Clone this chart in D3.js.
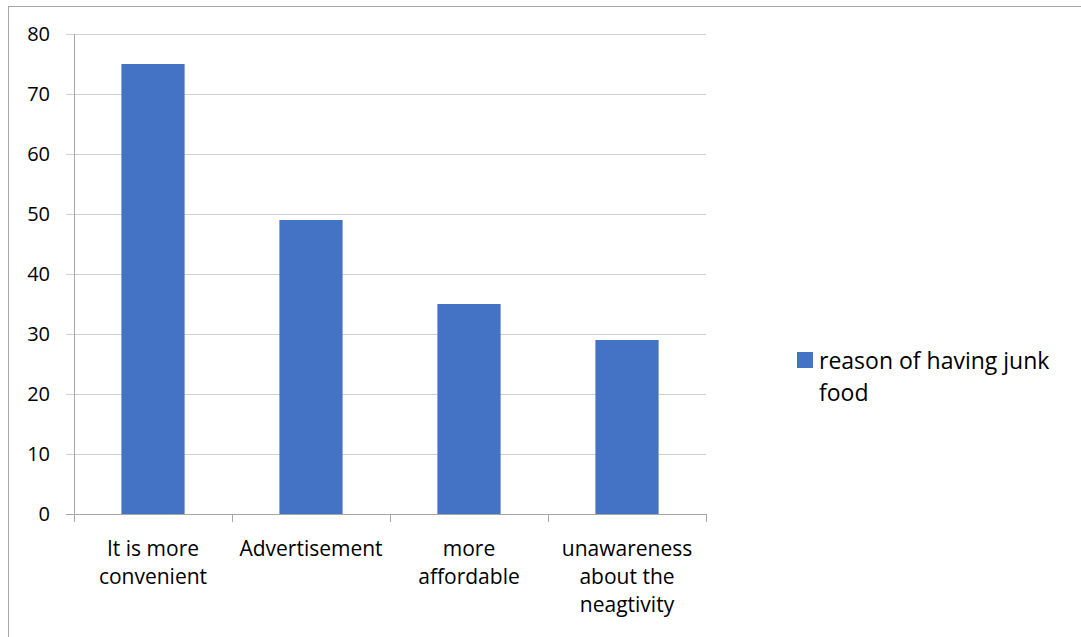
<!DOCTYPE html>
<html>
<head>
<meta charset="utf-8">
<script src="https://cdn.jsdelivr.net/npm/d3@7"></script>
<style>
  body { margin: 0; background: #fff; }
  svg text { font-family: "Open Sans", "Liberation Sans", sans-serif; fill: #000; }
</style>
</head>
<body>
<svg id="chart" width="1081" height="637"></svg>
<script>
const categories = [
  ["It is more", "convenient"],
  ["Advertisement"],
  ["more", "affordable"],
  ["unawareness", "about the", "neagtivity"]
];
const values = [75, 49, 35, 29];
const yTicks = [0, 10, 20, 30, 40, 50, 60, 70, 80];
const seriesName = ["reason of having junk", "food"];

const svg = d3.select("#chart");
const margin = { left: 74, top: 34, right: 706, bottom: 514 };

// outer chart frame
svg.append("rect")
  .attr("x", 8.5).attr("y", 6.5)
  .attr("width", 1100).attr("height", 700)
  .attr("fill", "none").attr("stroke", "#a6a6a6");

const x = d3.scaleBand()
  .domain(d3.range(categories.length))
  .range([margin.left, margin.right])
  .paddingInner(0.6).paddingOuter(0.3);

const y = d3.scaleLinear().domain([0, 80]).range([margin.bottom, margin.top]);

// gridlines
svg.append("g")
  .selectAll("line")
  .data(yTicks)
  .enter()
  .append("line")
  .attr("x1", margin.left - 8)
  .attr("x2", margin.right)
  .attr("y1", (d) => Math.round(y(d)) + 0.5)
  .attr("y2", (d) => Math.round(y(d)) + 0.5)
  .attr("stroke", (d) => (d === 0 ? "#a6a6a6" : "#d0d0d0"));

// y labels
svg.append("g")
  .selectAll("text")
  .data(yTicks)
  .enter()
  .append("text")
  .attr("x", 50)
  .attr("y", (d) => y(d) + 7)
  .attr("text-anchor", "end")
  .style("font-size", "20px")
  .text((d) => d);

// y axis line
svg.append("line")
  .attr("x1", margin.left + 0.5).attr("x2", margin.left + 0.5)
  .attr("y1", margin.top).attr("y2", margin.bottom)
  .attr("stroke", "#a6a6a6");

// x category ticks
const step = (margin.right - margin.left) / categories.length;
svg.append("g")
  .selectAll("line")
  .data(d3.range(categories.length + 1))
  .enter()
  .append("line")
  .attr("x1", (d) => Math.round(margin.left + d * step) + 0.5)
  .attr("x2", (d) => Math.round(margin.left + d * step) + 0.5)
  .attr("y1", margin.bottom)
  .attr("y2", margin.bottom + 8)
  .attr("stroke", "#a6a6a6");

// bars
svg.append("g")
  .selectAll("rect")
  .data(values)
  .enter()
  .append("rect")
  .attr("x", (d, i) => x(i))
  .attr("width", x.bandwidth())
  .attr("y", (d) => y(d))
  .attr("height", (d) => y(0) - y(d))
  .attr("fill", "#4472c4");

// category labels
const lab = svg.append("g")
  .selectAll("text")
  .data(categories)
  .enter()
  .append("text")
  .attr("text-anchor", "middle")
  .style("font-size", "21px");
lab.selectAll("tspan")
  .data((d, i) => d.map((t) => ({ t, i })))
  .enter()
  .append("tspan")
  .attr("x", (d) => x(d.i) + x.bandwidth() / 2)
  .attr("y", (d, j) => 556 + j * 28)
  .text((d) => d.t);

// legend
svg.append("rect")
  .attr("x", 797).attr("y", 352)
  .attr("width", 16).attr("height", 16)
  .attr("fill", "#4472c4");
svg.append("text")
  .style("font-size", "23px")
  .selectAll("tspan")
  .data(seriesName)
  .enter()
  .append("tspan")
  .attr("x", 819)
  .attr("y", (d, i) => 369 + i * 32)
  .text((d) => d);
</script>
</body>
</html>
